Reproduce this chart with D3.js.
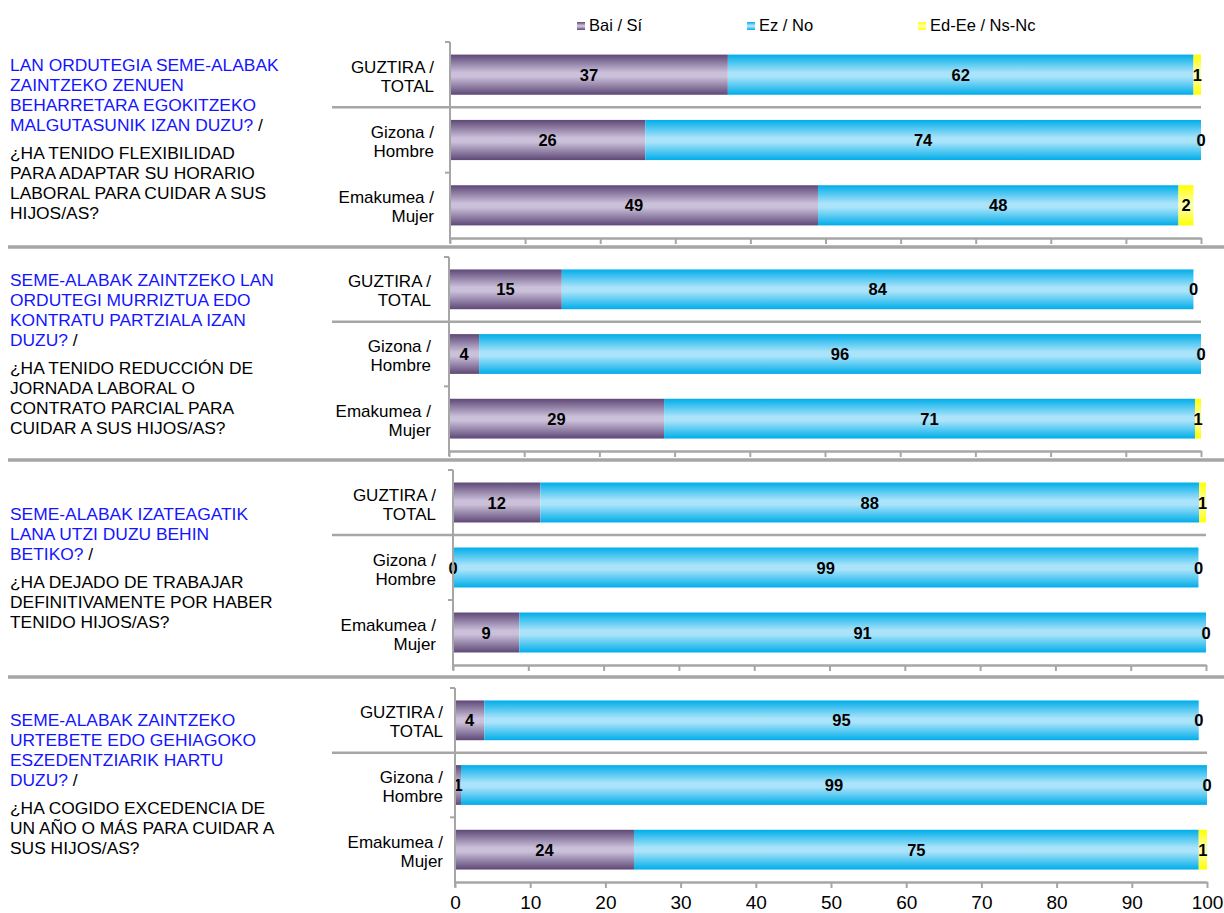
<!DOCTYPE html>
<html>
<head>
<meta charset="utf-8">
<script src="https://cdn.jsdelivr.net/npm/d3@7"></script>
<style>
  html, body { margin: 0; padding: 0; background: #ffffff; }
  svg { display: block; font-family: "Liberation Sans", Arial, sans-serif; }
</style>
</head>
<body>
<svg id="chart" width="1224" height="913"></svg>
<script>
// ---------- DATA ----------
const seriesKeys = ["bai", "ez", "ns"];
const seriesNames = ["Bai / Sí", "Ez / No", "Ed-Ee / Ns-Nc"];
const categories = ["GUZTIRA / TOTAL", "Gizona / Hombre", "Emakumea / Mujer"];
const catLine1 = ["GUZTIRA /", "Gizona /", "Emakumea /"];
const catLine2 = ["TOTAL", "Hombre", "Mujer"];

// one inner array per question: [total, man, woman]
const baiValues = [[37, 26, 49], [15, 4, 28.6], [11.6, 0, 8.8], [3.9, 0.8, 23.8]];
const ezValues  = [[62, 74, 48], [84, 96, 70.6], [87.5, 99, 91.2], [95, 99.2, 75.1]];
const nsValues  = [[1, 0, 2], [0, 0, 0.8], [0.9, 0, 0], [0, 0, 1.1]];

const tickValues = [0, 10, 20, 30, 40, 50, 60, 70, 80, 90, 100];

const questionEu = [
  ["LAN ORDUTEGIA SEME-ALABAK", "ZAINTZEKO ZENUEN", "BEHARRETARA EGOKITZEKO", "MALGUTASUNIK IZAN DUZU?"],
  ["SEME-ALABAK ZAINTZEKO LAN", "ORDUTEGI MURRIZTUA EDO", "KONTRATU PARTZIALA IZAN", "DUZU?"],
  ["SEME-ALABAK IZATEAGATIK", "LANA UTZI DUZU BEHIN", "BETIKO?"],
  ["SEME-ALABAK ZAINTZEKO", "URTEBETE EDO GEHIAGOKO", "ESZEDENTZIARIK HARTU", "DUZU?"]
];
const questionEs = [
  ["¿HA TENIDO FLEXIBILIDAD", "PARA ADAPTAR SU HORARIO", "LABORAL PARA CUIDAR A SUS", "HIJOS/AS?"],
  ["¿HA TENIDO REDUCCIÓN DE", "JORNADA LABORAL O", "CONTRATO PARCIAL PARA", "CUIDAR A SUS HIJOS/AS?"],
  ["¿HA DEJADO DE TRABAJAR", "DEFINITIVAMENTE POR HABER", "TENIDO HIJOS/AS?"],
  ["¿HA COGIDO EXCEDENCIA DE", "UN AÑO O MÁS PARA CUIDAR A", "SUS HIJOS/AS?"]
];

// ---------- LAYOUT ----------
const layout = [
  { x0: 450, x1: 1201, top: 42,  bottom: 238, sep: 247, labelRight: 434, qTop: 71 },
  { x0: 449, x1: 1201, top: 257, bottom: 451, sep: 460, labelRight: 431, qTop: 286 },
  { x0: 453, x1: 1206, top: 470, bottom: 665, sep: 677, labelRight: 436, qTop: 520 },
  { x0: 455, x1: 1207, top: 688, bottom: 882, sep: null, labelRight: 443, qTop: 726 }
];
const axisColor = "#a6a6a6";

const svg = d3.select("#chart");
const defs = svg.append("defs");

function grad(id, edge, mid) {
  const g = defs.append("linearGradient").attr("id", id)
    .attr("x1", 0).attr("y1", 0).attr("x2", 0).attr("y2", 1);
  g.append("stop").attr("offset", "0%").attr("stop-color", edge);
  g.append("stop").attr("offset", "45%").attr("stop-color", mid);
  g.append("stop").attr("offset", "55%").attr("stop-color", mid);
  g.append("stop").attr("offset", "100%").attr("stop-color", edge);
}
grad("g-bai", "#5e4877", "#cbc0da");
grad("g-ez", "#00ade9", "#abe4fa");
grad("g-ns", "#ffff00", "#ffffa8");
const fillFor = { bai: "url(#g-bai)", ez: "url(#g-ez)", ns: "url(#g-ns)" };

// ---------- LEGEND ----------
const legendX = [577, 747, 918];
const legend = svg.append("g");
seriesKeys.forEach((k, i) => {
  legend.append("rect").attr("x", legendX[i]).attr("y", 22).attr("width", 8).attr("height", 8)
    .attr("fill", fillFor[k]);
  legend.append("text").attr("x", legendX[i] + 12).attr("y", 31)
    .attr("font-size", 16.5).attr("fill", "#000").text(seriesNames[i]);
});

const stack = d3.stack().keys(seriesKeys);
const fmt = d3.format(".0f");

layout.forEach((L, p) => {
  const g = svg.append("g");
  const rows = categories.map((c, i) => ({
    cat: c, bai: baiValues[p][i], ez: ezValues[p][i], ns: nsValues[p][i]
  }));
  const stacked = stack(rows);

  const x = d3.scaleLinear().domain([0, 100]).range([L.x0, L.x1]);
  const y = d3.scaleBand().domain(categories).range([L.top, L.bottom])
    .paddingInner(0.385).paddingOuter(0.1925);
  const step = y.step();

  // question text
  const q = g.append("g");
  const eu = questionEu[p];
  eu.forEach((line, i) => {
    const t = q.append("text").attr("x", 10).attr("y", L.qTop + i * 20)
      .attr("font-size", 17.4);
    t.append("tspan").attr("fill", "#1414ff").text(line);
    if (i === eu.length - 1) t.append("tspan").attr("fill", "#000").text(" /");
  });
  const esTop = L.qTop + (eu.length - 1) * 20 + 28;
  questionEs[p].forEach((line, i) => {
    q.append("text").attr("x", 10).attr("y", esTop + i * 20)
      .attr("font-size", 17.4).attr("fill", "#000").text(line);
  });

  // bars
  stacked.forEach(s => {
    g.append("g").selectAll("rect").data(s).join("rect")
      .attr("x", d => x(d[0]))
      .attr("y", d => y(d.data.cat))
      .attr("width", d => Math.max(0, x(d[1]) - x(d[0])))
      .attr("height", y.bandwidth())
      .attr("fill", fillFor[s.key]);
  });

  // value labels
  stacked.forEach(s => {
    g.append("g").selectAll("text").data(s).join("text")
      .attr("x", d => (x(d[0]) + x(d[1])) / 2)
      .attr("y", d => y(d.data.cat) + y.bandwidth() / 2 + 6)
      .attr("text-anchor", "middle")
      .attr("font-size", 16.5).attr("font-weight", "bold").attr("fill", "#000")
      .text(d => fmt(d[1] - d[0]));
  });

  // category labels
  categories.forEach((c, i) => {
    const cy = y(c) + y.bandwidth() / 2;
    g.append("text").attr("x", L.labelRight).attr("y", cy - 2)
      .attr("text-anchor", "end").attr("font-size", 17).attr("fill", "#000").text(catLine1[i]);
    g.append("text").attr("x", L.labelRight).attr("y", cy + 17)
      .attr("text-anchor", "end").attr("font-size", 17).attr("fill", "#000").text(catLine2[i]);
  });

  // vertical axis
  g.append("line").attr("x1", L.x0).attr("x2", L.x0).attr("y1", L.top).attr("y2", L.bottom + 5)
    .attr("stroke", axisColor).attr("stroke-width", 2);
  [L.top, L.top + 2 * step].forEach(ty => {
    g.append("line").attr("x1", L.x0 - 5).attr("x2", L.x0).attr("y1", ty).attr("y2", ty)
      .attr("stroke", axisColor).attr("stroke-width", 2);
  });
  // separator between total and gender rows
  g.append("line").attr("x1", 332).attr("x2", L.x1).attr("y1", L.top + step).attr("y2", L.top + step)
    .attr("stroke", axisColor).attr("stroke-width", 2.5);

  // bottom axis
  const axis = d3.axisBottom(x).tickValues(tickValues).tickSize(6).tickSizeOuter(0)
    .tickFormat(p === layout.length - 1 ? d3.format("d") : () => "");
  const ax = g.append("g").attr("transform", `translate(0,${L.bottom})`).call(axis);
  ax.select(".domain").attr("stroke", axisColor).attr("stroke-width", 2.5);
  ax.selectAll(".tick line").attr("stroke", axisColor).attr("stroke-width", 2);
  ax.selectAll(".tick text").attr("font-size", 19).attr("fill", "#000")
    .attr("font-family", "'Liberation Sans', Arial, sans-serif").attr("dy", 0).attr("y", 27);

  // panel separator
  if (L.sep !== null) {
    g.append("line").attr("x1", 8).attr("x2", 1224).attr("y1", L.sep).attr("y2", L.sep)
      .attr("stroke", axisColor).attr("stroke-width", 3.5);
  }
});
</script>
</body>
</html>
